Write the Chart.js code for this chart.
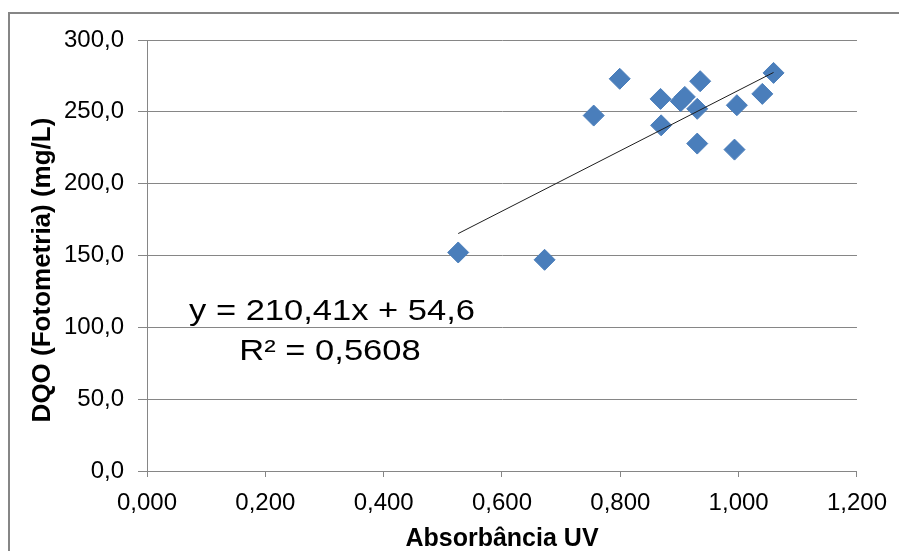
<!DOCTYPE html>
<html>
<head>
<meta charset="utf-8">
<script src="https://cdn.jsdelivr.net/npm/chart.js@4.4.1/dist/chart.umd.min.js"></script>
<style>
  html, body { margin: 0; padding: 0; background: #fff; }
  .chart-container { position: relative; width: 899px; height: 551px; }
</style>
</head>
<body>
<div class="chart-container"><canvas id="myChart"></canvas></div>
<script>
// Absorbância UV x DQO (fotometria)
const absorbanciaUV = [0.526, 0.672, 0.755, 0.799, 0.868, 0.869, 0.902, 0.909, 0.930, 0.935, 0.930, 0.993, 0.997, 1.040, 1.059];
const dqoFotometria = [152.1, 147.0, 247.4, 273.0, 259.0, 240.6, 257.4, 260.4, 252.1, 271.3, 227.9, 223.7, 254.6, 262.5, 277.1];
const xTicks = [0, 0.2, 0.4, 0.6, 0.8, 1.0, 1.2];
const yTicks = [0, 50, 100, 150, 200, 250, 300];
const trendSlope = 210.41;
const trendIntercept = 54.6;
const equationLines = ['y = 210,41x + 54,6', 'R² = 0,5608'];

const FONT = "'Liberation Sans', Arial, sans-serif";
const GRAY = '#868686';

const points = absorbanciaUV.map((x, i) => ({ x: x, y: dqoFotometria[i] }));
const xMin = Math.min(...absorbanciaUV);
const xMax = Math.max(...absorbanciaUV);
const trend = [xMin, xMax].map(x => ({ x: x, y: trendSlope * x + trendIntercept }));

const comma = (v, d) => v.toFixed(d).replace('.', ',');

const chartFrame = {
    id: 'chartFrame',
    beforeDraw(chart) {
        const ctx = chart.ctx;
        ctx.save();
        ctx.fillStyle = '#fff';
        ctx.fillRect(0, 0, chart.width, chart.height);
        ctx.strokeStyle = GRAY;
        ctx.lineWidth = 2;
        ctx.strokeRect(9, 13, chart.width + 20, chart.height + 20);
        ctx.restore();
    },
    afterDraw(chart) {
        const ctx = chart.ctx;
        ctx.save();
        ctx.fillStyle = '#000';
        ctx.textAlign = 'center';
        ctx.textBaseline = 'alphabetic';

        // axis titles
        ctx.font = 'bold 25px ' + FONT;
        ctx.fillText('Absorbância UV', 502, 546);
        ctx.save();
        ctx.translate(50, 270);
        ctx.rotate(-Math.PI / 2);
        ctx.font = 'bold 26px ' + FONT;
        ctx.fillText('DQO (Fotometria) (mg/L)', 0, 0);
        ctx.restore();

        // trendline equation, drawn slightly widened
        ctx.font = '29px ' + FONT;
        [[332, 320], [330, 360]].forEach(([cx, by], i) => {
            ctx.save();
            ctx.translate(cx, by);
            ctx.scale(1.19, 1);
            ctx.fillText(equationLines[i], 0, 0);
            ctx.restore();
        });
        ctx.restore();
    }
};

const ctx = document.getElementById('myChart');
const myChart = new Chart(ctx, {
    type: 'scatter',
    data: {
        datasets: [
            {
                type: 'line',
                label: 'Linear',
                data: trend,
                borderColor: '#1e1e1e',
                borderWidth: 1,
                pointRadius: 0,
                fill: false,
                order: 0
            },
            {
                label: 'DQO',
                data: points,
                pointStyle: 'rectRot',
                pointRadius: 10.5,
                pointHoverRadius: 10.5,
                backgroundColor: '#4a7ebb',
                borderColor: '#4a7ebb',
                borderWidth: 1,
                order: 1
            }
        ]
    },
    options: {
        responsive: true,
        maintainAspectRatio: false,
        animation: false,
        devicePixelRatio: 1,
        layout: { padding: { top: 40, right: 41, left: 0, bottom: 0 } },
        plugins: {
            legend: { display: false },
            tooltip: { enabled: false }
        },
        scales: {
            x: {
                type: 'linear',
                min: 0,
                max: 1.2,
                afterBuildTicks: s => { s.ticks = xTicks.map(v => ({ value: v })); },
                afterFit: s => { s.height = 80; },
                grid: { drawOnChartArea: false, drawTicks: true, tickLength: 6, color: GRAY },
                border: { color: GRAY, width: 1 },
                ticks: {
                    color: '#000',
                    padding: 12,
                    maxRotation: 0,
                    font: { family: FONT, size: 24 },
                    callback: v => comma(v, 3)
                }
            },
            y: {
                min: 0,
                max: 300,
                afterBuildTicks: s => { s.ticks = yTicks.map(v => ({ value: v })); },
                afterFit: s => { s.width = 147; },
                grid: { color: GRAY, lineWidth: 1, drawTicks: true, tickLength: 9 },
                border: { color: GRAY, width: 1 },
                ticks: {
                    color: '#000',
                    padding: 14,
                    font: { family: FONT, size: 24 },
                    callback: v => comma(v, 1)
                }
            }
        }
    },
    plugins: [chartFrame]
});
</script>
</body>
</html>
